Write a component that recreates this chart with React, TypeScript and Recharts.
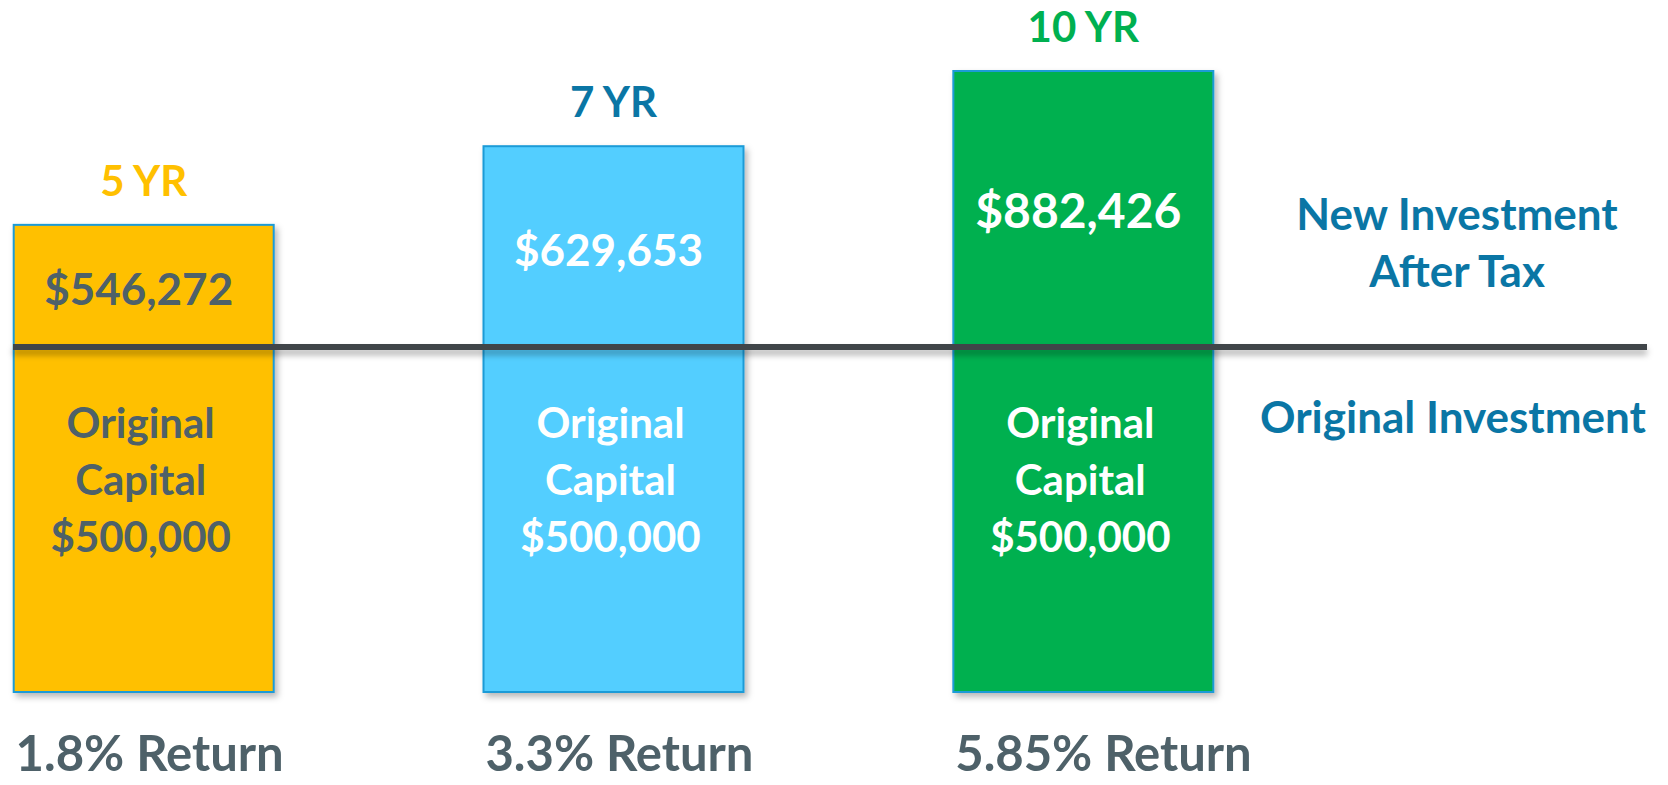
import { BarChart, Bar, XAxis, YAxis, ReferenceLine, Cell } from "recharts";

const PERIODS = ["5 YR", "7 YR", "10 YR"];
const AFTER_TAX = [546272, 629653, 882426];
const ORIGINAL_CAPITAL = 500000;
const RETURNS = ["1.8% Return", "3.3% Return", "5.85% Return"];
// heights the bars are drawn at, in $k (the graphic is not to scale)
const DRAWN_K = [677, 791, 900];

const FILLS = ["#FFC000", "#52CEFF", "#00B050"];
const HEAD_COLORS = ["#FFC000", "#0A76A5", "#00B050"];
const INNER_TEXT = ["#4E6169", "#FFFFFF", "#FFFFFF"];

const SLATE = "#4E6169";
const BLUE = "#0A76A5";
const FONT = "Lato, 'Open Sans', sans-serif";

const chartData = PERIODS.map((period, i) => ({
  pos: i + 1,
  period,
  afterTax: AFTER_TAX[i],
  drawn: DRAWN_K[i],
  ret: RETURNS[i],
}));

const fmt = (v: number) => "$" + v.toLocaleString("en-US");

function BarShape(props: any) {
  const { x, y, width, height, index } = props;
  const d = chartData[index];
  const cx = x + width / 2;
  const lineY = y + height * (1 - ORIGINAL_CAPITAL / 1000 / d.drawn);
  const inner = INNER_TEXT[index];
  return (
    <g fontFamily={FONT} fontWeight={700} textAnchor="middle">
      <rect
        x={x}
        y={y}
        width={width}
        height={height}
        fill={FILLS[index]}
        stroke="#1E9BD7"
        strokeWidth={2}
        filter="url(#barShadow)"
      />
      <text x={cx} y={y - 29} fill={HEAD_COLORS[index]} fontSize={42}>
        {d.period}
      </text>
      <text x={cx - 5} y={(y + lineY) / 2 + 19} fill={inner} fontSize={index === 2 ? 48 : 44}>
        {fmt(d.afterTax)}
      </text>
      <text x={cx - 3} y={lineY + 91} fill={inner} fontSize={42}>
        Original
      </text>
      <text x={cx - 3} y={lineY + 148} fill={inner} fontSize={42}>
        Capital
      </text>
      <text x={cx - 3} y={lineY + 205} fill={inner} fontSize={42}>
        {fmt(ORIGINAL_CAPITAL)}
      </text>
    </g>
  );
}

function ReturnTick(props: any) {
  const { x, y, payload } = props;
  const d = chartData.find((c) => c.pos === payload.value);
  if (!d) return null;
  return (
    <text
      x={x - 128}
      y={y + 79}
      fill={SLATE}
      fontFamily={FONT}
      fontWeight={700}
      fontSize={49}
      textAnchor="start"
    >
      {d.ret}
    </text>
  );
}

function SideLabels(props: any) {
  const vb = props.viewBox ?? {};
  const cx = vb.x + vb.width - 190;
  const ly = vb.y;
  return (
    <g fontFamily={FONT} fontWeight={700} fontSize={44} fill={BLUE} textAnchor="middle">
      <text x={cx} y={ly - 117}>New Investment</text>
      <text x={cx} y={ly - 60}>After Tax</text>
      <text x={cx - 4} y={ly + 86}>Original Investment</text>
    </g>
  );
}

function LineShape(props: any) {
  const { x1, y1, x2, y2 } = props;
  return (
    <line
      x1={x1}
      y1={y1}
      x2={x2}
      y2={y2}
      stroke="#404548"
      strokeWidth={6}
      filter="url(#lineShadow)"
    />
  );
}

export default function App() {
  return (
    <div style={{ width: 1668, height: 785, background: "#fff", overflow: "hidden" }}>
      <style>{"body{margin:0}"}</style>
      <svg width={0} height={0} style={{ position: "absolute" }}>
        <defs>
          <filter id="barShadow" x="-10%" y="-10%" width="130%" height="130%">
            <feDropShadow dx={3} dy={4} stdDeviation={3} floodColor="#000" floodOpacity={0.28} />
          </filter>
          <filter id="lineShadow" filterUnits="userSpaceOnUse" x={0} y={0} width={1668} height={785}>
            <feDropShadow dx={0} dy={5} stdDeviation={3} floodColor="#000" floodOpacity={0.3} />
          </filter>
        </defs>
      </svg>
      <BarChart
        width={1668}
        height={785}
        data={chartData}
        margin={{ top: 2, right: 21, bottom: 0, left: 13 }}
      >
        <XAxis
          type="number"
          dataKey="pos"
          domain={[0.722, 4.2]}
          ticks={[1, 2, 3]}
          interval={0}
          height={93}
          axisLine={false}
          tickLine={false}
          tickSize={0}
          tickMargin={0}
          tick={<ReturnTick />}
        />
        <YAxis hide domain={[0, 1000]} />
        <Bar dataKey="drawn" barSize={260} shape={<BarShape />} isAnimationActive={false}>
          {chartData.map((_, i) => (
            <Cell key={i} fill={FILLS[i]} />
          ))}
        </Bar>
        <ReferenceLine
          y={ORIGINAL_CAPITAL / 1000}
          stroke="#404548"
          strokeWidth={6}
          shape={<LineShape />}
          label={SideLabels}
          ifOverflow="visible"
        />
      </BarChart>
    </div>
  );
}
